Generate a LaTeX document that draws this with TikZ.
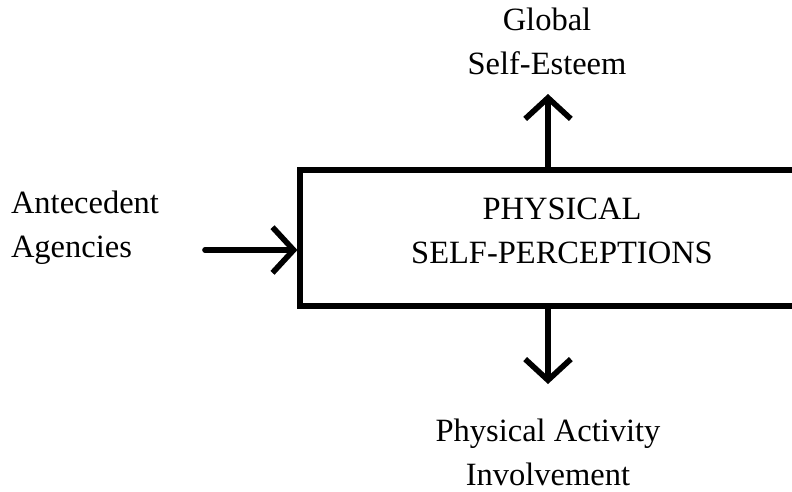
\documentclass[tikz,border=0pt]{standalone}
\usepackage{fontspec}
\setmainfont{Liberation Serif}
\usetikzlibrary{arrows.meta}
\tikzset{
  lbl/.style={font=\fontsize{18.5}{25}\selectfont,align=center,inner sep=0pt},
  arr/.style={line width=3.2pt,line cap=round,-{Straight Barb[length=12pt,width=26pt,line width=3.2pt]}}
}
\begin{document}
\begin{tikzpicture}[x=0.02cm,y=-0.02cm]
\useasboundingbox (0,0) rectangle (792,491);
\clip (0,0) rectangle (792,491);
% central box, runs off the right edge
\node[draw,line width=3pt,minimum width=10.4cm,minimum height=2.72cm,inner sep=0pt] (box) at (560,238) {};
\node[lbl] (phys) at (562,231) {PHYSICAL\\SELF-PERCEPTIONS};
\node[lbl,align=left] (ante) at (85,228) {Antecedent\\Agencies};
\node[lbl] (esteem) at (547,41) {Global\\Self-Esteem};
\node[lbl] (activity) at (548,452) {Physical Activity\\Involvement};
\coordinate (ain) at (205,250);
\coordinate (up) at (548,94);
\coordinate (down) at (548,384);
\draw[arr](ain)--(ain -| box.west);
\draw[arr](box.north -| up)--(up);
\draw[arr](box.south -| down)--(down);
\end{tikzpicture}
\end{document}
